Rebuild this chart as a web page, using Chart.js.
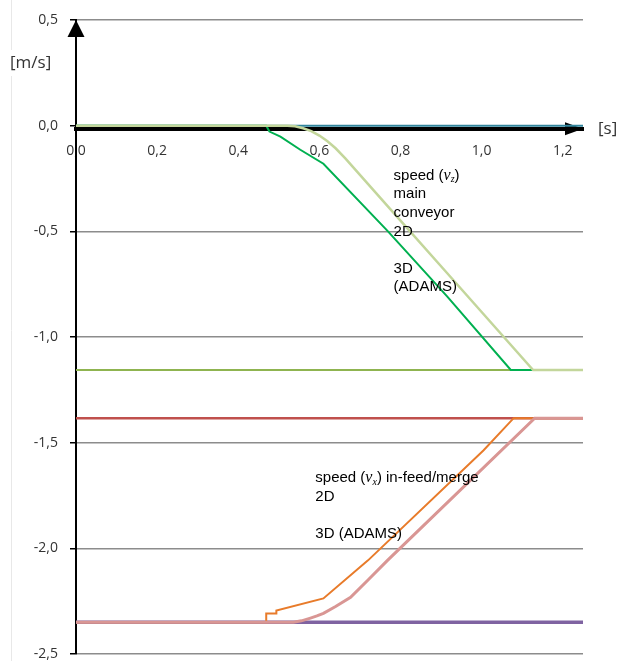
<!DOCTYPE html>
<html>
<head>
<meta charset="utf-8">
<script src="https://cdn.jsdelivr.net/npm/chart.js@4.4.1/dist/chart.umd.min.js"></script>
<style>
  html, body { margin: 0; padding: 0; background: #fff; }
  canvas { display: block; }
</style>
</head>
<body>
<canvas id="speedChart" width="618" height="661"></canvas>
<script>
// time [s] / speed [m/s]
const timeRange = [0, 1.25];
const xTicks = [0, 0.2, 0.4, 0.6, 0.8, 1.0, 1.2];
const yTicks = [0.5, 0, -0.5, -1.0, -1.5, -2.0, -2.5];
const xAxisAt = -0.014;

// constant reference levels
const zeroLevel = [0, 0];
const mainTarget = [-1.156, -1.156];
const feedTarget = [-1.384, -1.384];
const feedStart = [-2.35, -2.35];

// main conveyor v_z, 2D
const vz2dTime = [0, 0.521, 0.54, 0.56, 0.58, 0.60, 0.62, 0.64, 0.664, 0.800, 0.923, 1.127, 1.25];
const vz2dSpeed = [0, 0, -0.003, -0.012, -0.026, -0.047, -0.074, -0.107, -0.155, -0.449, -0.715, -1.156, -1.156];

// main conveyor v_z, 3D (ADAMS)
const vz3dTime = [0, 0.469, 0.477, 0.504, 0.553, 0.610, 0.768, 0.916, 1.072, 1.25];
const vz3dSpeed = [0, 0, -0.028, -0.052, -0.114, -0.180, -0.498, -0.810, -1.156, -1.156];

// in-feed/merge v_x, 2D
const vx2dTime = [0, 0.469, 0.469, 0.494, 0.494, 0.610, 0.720, 1.005, 1.079, 1.25];
const vx2dSpeed = [-2.35, -2.35, -2.308, -2.308, -2.294, -2.237, -2.057, -1.536, -1.384, -1.384];

// in-feed/merge v_x, 3D (ADAMS)
const vx3dTime = [0, 0.536, 0.556, 0.578, 0.594, 0.610, 0.640, 0.677, 0.720, 0.768, 1.131, 1.25];
const vx3dSpeed = [-2.35, -2.35, -2.343, -2.33, -2.32, -2.308, -2.275, -2.232, -2.15, -2.057, -1.384, -1.384];

function pts(ts, vs) {
  return ts.map((t, i) => ({ x: t, y: vs[i] }));
}

function fmt(v) {
  if (Math.abs(v) < 1e-9) v = 0;
  return v.toFixed(1).replace(".", ",");
}

function line(data, color, width, order) {
  return {
    data: data,
    borderColor: color,
    backgroundColor: color,
    borderWidth: width,
    pointRadius: 0,
    fill: false,
    tension: 0,
    order: order,
  };
}

const datasets = [
  line(pts(vz2dTime, vz2dSpeed), "#c3d69b", 2.5, 1),
  line(pts(vz3dTime, vz3dSpeed), "#00b050", 2, 2),
  line(pts(vx3dTime, vx3dSpeed), "#d99694", 3, 3),
  line(pts(vx2dTime, vx2dSpeed), "#e87b2a", 2, 4),
  line(pts(timeRange, feedStart), "#7f63a1", 3.5, 5),
  line(pts(timeRange, feedTarget), "#c0504d", 2.5, 6),
  line(pts(timeRange, mainTarget), "#8fb450", 2, 7),
  line(pts(timeRange, zeroLevel), "#31859c", 2, 8),
];

const textFont = '15px "Liberation Sans", Arial, sans-serif';
const tickFont = { family: '"Open Sans", sans-serif', size: 14 };

// draws "speed (v_z)" style line: italic serif v with subscript
function richLine(ctx, parts, x, y) {
  ctx.textBaseline = "middle";
  ctx.textAlign = "left";
  parts.forEach((p) => {
    let dy = 0;
    if (p.it) ctx.font = 'italic 16px "Liberation Serif", serif';
    else if (p.sub) { ctx.font = 'italic 10px "Liberation Serif", serif'; dy = 4; }
    else ctx.font = textFont;
    ctx.fillText(p.t, x, y + dy);
    x += ctx.measureText(p.t).width;
  });
}

const notes = [
  { t: 0.783, v: -0.237, lines: [
    [{ t: "speed (" }, { t: "v", it: true }, { t: "z", sub: true }, { t: ")" }],
    [{ t: "main" }], [{ t: "conveyor" }], [{ t: "2D" }], [], [{ t: "3D" }], [{ t: "(ADAMS)" }],
  ] },
  { t: 0.59, v: -1.668, lines: [
    [{ t: "speed (" }, { t: "v", it: true }, { t: "x", sub: true }, { t: ") in-feed/merge" }],
    [{ t: "2D" }], [], [{ t: "3D (ADAMS)" }],
  ] },
];

const decor = {
  id: "decor",
  beforeDraw(chart) {
    const ctx = chart.ctx;
    ctx.save();
    ctx.strokeStyle = "#e8e8e8";
    ctx.lineWidth = 1;
    ctx.beginPath();
    ctx.moveTo(11.5, 0);
    ctx.lineTo(11.5, 661);
    ctx.stroke();
    ctx.restore();
  },
  beforeDatasetsDraw(chart) {
    const { ctx, scales: { x, y } } = chart;
    ctx.save();
    ctx.fillStyle = "#000";
    // arrow on y axis
    const ax = x.getPixelForValue(0);
    const top = y.getPixelForValue(0.5);
    ctx.beginPath();
    ctx.moveTo(ax, top);
    ctx.lineTo(ax - 8.5, top + 17);
    ctx.lineTo(ax + 8.5, top + 17);
    ctx.closePath();
    ctx.fill();
    // arrow on x axis
    const ay = y.getPixelForValue(xAxisAt);
    const right = x.getPixelForValue(timeRange[1]);
    ctx.beginPath();
    ctx.moveTo(right, ay);
    ctx.lineTo(right - 18, ay - 6.5);
    ctx.lineTo(right - 18, ay + 6.5);
    ctx.closePath();
    ctx.fill();
    ctx.restore();
  },
  afterDraw(chart) {
    const { ctx, scales: { x, y } } = chart;
    ctx.save();
    ctx.font = '17px "Open Sans", sans-serif';
    ctx.textBaseline = "middle";
    ctx.textAlign = "left";
    const w = ctx.measureText("[m/s]").width;
    ctx.fillStyle = "#fff";
    ctx.fillRect(9, 50, w + 4, 26);
    ctx.fillStyle = "#333";
    ctx.fillText("[m/s]", 10, 63);
    ctx.fillText("[s]", x.getPixelForValue(timeRange[1]) + 15, y.getPixelForValue(xAxisAt) + 1);

    ctx.fillStyle = "#000";
    notes.forEach((n) => {
      const px = x.getPixelForValue(n.t);
      const py = y.getPixelForValue(n.v);
      n.lines.forEach((l, i) => richLine(ctx, l, px, py + i * 18.6));
    });
    ctx.restore();
  },
};

new Chart(document.getElementById("speedChart"), {
  type: "line",
  data: { datasets: datasets },
  options: {
    responsive: false,
    animation: false,
    devicePixelRatio: 1,
    layout: { padding: { left: 0, right: 35, top: 20, bottom: 7 } },
    plugins: { legend: { display: false }, tooltip: { enabled: false } },
    scales: {
      x: {
        type: "linear",
        min: timeRange[0],
        max: timeRange[1],
        position: { y: xAxisAt },
        afterBuildTicks: (s) => { s.ticks = xTicks.map((v) => ({ value: v })); },
        afterFit: (s) => { s.height = 0; },
        grid: { display: false, drawTicks: false },
        border: { color: "#000", width: 4 },
        ticks: { font: tickFont, color: "#333", padding: 14, maxRotation: 0, callback: (v) => fmt(v) },
      },
      y: {
        min: -2.5,
        max: 0.5,
        afterBuildTicks: (s) => { s.ticks = yTicks.map((v) => ({ value: v })); },
        afterFit: (s) => {
          s.width = 76;
          s.paddingTop = 0;
          s.paddingBottom = 0;
        },
        grid: {
          color: (c) => (c.tick && Math.abs(c.tick.value) < 1e-9 ? "rgba(0,0,0,0)" : "#8c8c8c"),
          lineWidth: 1.5,
          drawTicks: true,
          tickLength: 6,
          tickColor: "#000",
        },
        border: { color: "#000", width: 2 },
        ticks: { font: tickFont, color: "#333", padding: 12, callback: (v) => fmt(v) },
      },
    },
  },
  plugins: [decor],
});
</script>
</body>
</html>
